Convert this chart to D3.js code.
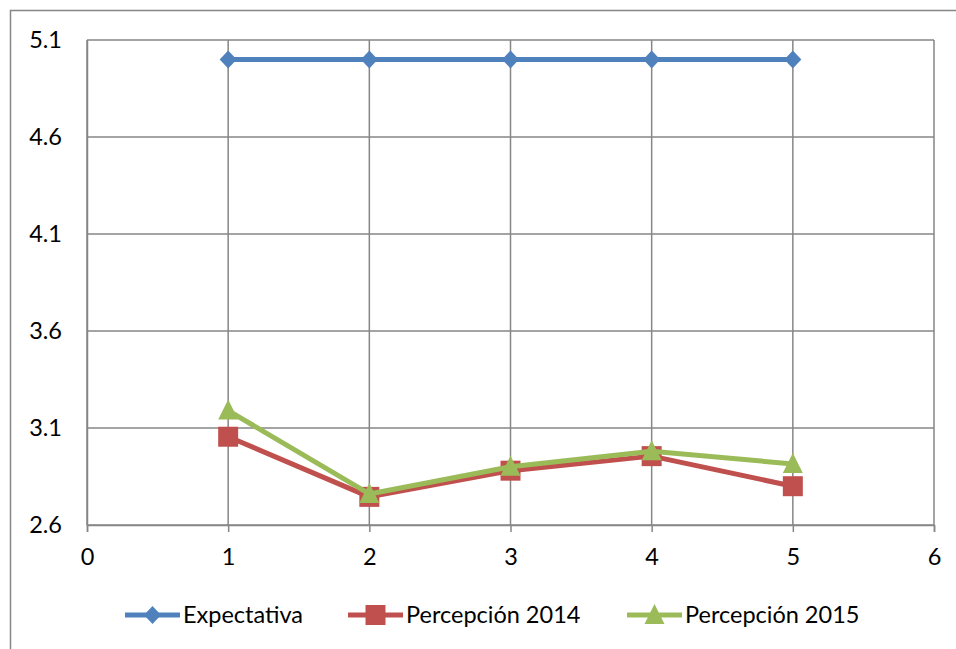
<!DOCTYPE html>
<html>
<head>
<meta charset="utf-8">
<script src="https://cdn.jsdelivr.net/npm/d3@7"></script>
<style>
  html, body { margin: 0; padding: 0; background: #fff; }
  svg { display: block; }
  text { font-family: Lato, "Open Sans", sans-serif; fill: #000; }
</style>
</head>
<body>
<svg id="chart" width="956" height="649"></svg>
<script>
// Survey scores per item: expectation vs. perceived score by year
const xValues = [1, 2, 3, 4, 5];
const expectativa = [5.0, 5.0, 5.0, 5.0, 5.0];
const percepcion2014 = [3.055, 2.745, 2.88, 2.955, 2.80];
const percepcion2015 = [3.19, 2.76, 2.90, 2.98, 2.915];
const xTicks = [0, 1, 2, 3, 4, 5, 6];
const yTicks = [2.6, 3.1, 3.6, 4.1, 4.6, 5.1];
const seriesNames = ["Expectativa", "Percepción 2014", "Percepción 2015"];
const seriesColors = ["#4F81BD", "#C0504D", "#9BBB59"];
const seriesShapes = ["diamond", "square", "triangle"];

const svg = d3.select("#chart");
const gridColor = "#868686";
const fontSize = 23.5;

// outer chart frame
svg.append("rect")
  .attr("x", 10.5).attr("y", 10.5)
  .attr("width", 960).attr("height", 660)
  .attr("fill", "none").attr("stroke", gridColor).attr("stroke-width", 1.5);

const plot = { left: 87, right: 934, top: 40, bottom: 525 };

const x = d3.scaleLinear().domain([0, 6]).range([plot.left, plot.right]);
const y = d3.scaleLinear().domain([2.6, 5.1]).range([plot.bottom, plot.top]);

// horizontal gridlines
svg.append("g")
  .selectAll("line")
  .data(yTicks)
  .join("line")
  .attr("x1", plot.left).attr("x2", plot.right)
  .attr("y1", d => y(d)).attr("y2", d => y(d))
  .attr("stroke", gridColor).attr("stroke-width", 1.5);

// vertical gridlines
svg.append("g")
  .selectAll("line")
  .data(xTicks)
  .join("line")
  .attr("x1", d => x(d)).attr("x2", d => x(d))
  .attr("y1", plot.top).attr("y2", plot.bottom)
  .attr("stroke", gridColor).attr("stroke-width", 1.5);

// x axis with tick marks below the baseline
const xAxis = svg.append("g")
  .attr("transform", `translate(0,${plot.bottom})`)
  .call(d3.axisBottom(x).tickValues(xTicks).tickFormat(d3.format("d")).tickSize(7).tickPadding(18));
xAxis.select(".domain").attr("stroke", gridColor).attr("stroke-width", 1.5);
xAxis.selectAll(".tick line").attr("stroke", gridColor).attr("stroke-width", 1.5);
xAxis.selectAll("text").attr("font-size", fontSize).attr("font-family", "Lato, sans-serif").attr("fill", "#000")
  .attr("dy", "0.62em");

// y axis
const yAxis = svg.append("g")
  .attr("transform", `translate(${plot.left},0)`)
  .call(d3.axisLeft(y).tickValues(yTicks).tickFormat(d3.format(".1f")).tickSize(0).tickPadding(25));
yAxis.select(".domain").attr("stroke", gridColor).attr("stroke-width", 1.5);
yAxis.selectAll("text").attr("font-size", fontSize).attr("font-family", "Lato, sans-serif").attr("fill", "#000")
  .attr("dy", "0.3em");

// marker shapes
function markerPath(shape) {
  if (shape === "diamond") return "M0,-9 L8.5,0 L0,9 L-8.5,0 Z";
  if (shape === "square") return "M-10,-10 L10,-10 L10,10 L-10,10 Z";
  return "M0,-11 L10,9 L-10,9 Z";
}

const seriesData = [expectativa, percepcion2014, percepcion2015];
const line = d3.line().x((d, i) => x(xValues[i])).y(d => y(d));

seriesData.forEach((vals, si) => {
  const g = svg.append("g");
  g.append("path")
    .datum(vals)
    .attr("d", line)
    .attr("fill", "none")
    .attr("stroke", seriesColors[si])
    .attr("stroke-width", 5)
    .attr("stroke-linejoin", "round");
  g.selectAll("path.marker")
    .data(vals)
    .join("path")
    .attr("class", "marker")
    .attr("transform", (d, i) => `translate(${x(xValues[i])},${y(d)})`)
    .attr("d", markerPath(seriesShapes[si]))
    .attr("fill", seriesColors[si]);
});

// legend
const legendY = 615;
const legendX = [125, 348, 627];
seriesNames.forEach((name, si) => {
  const g = svg.append("g").attr("transform", `translate(${legendX[si]},${legendY})`);
  g.append("line")
    .attr("x1", 0).attr("x2", 55).attr("y1", 0).attr("y2", 0)
    .attr("stroke", seriesColors[si]).attr("stroke-width", 5);
  g.append("path")
    .attr("transform", "translate(27.5,0)")
    .attr("d", markerPath(seriesShapes[si]))
    .attr("fill", seriesColors[si]);
  g.append("text")
    .attr("x", 58).attr("y", 0).attr("dy", "0.35em")
    .attr("font-size", fontSize)
    .text(name);
});
</script>
</body>
</html>
